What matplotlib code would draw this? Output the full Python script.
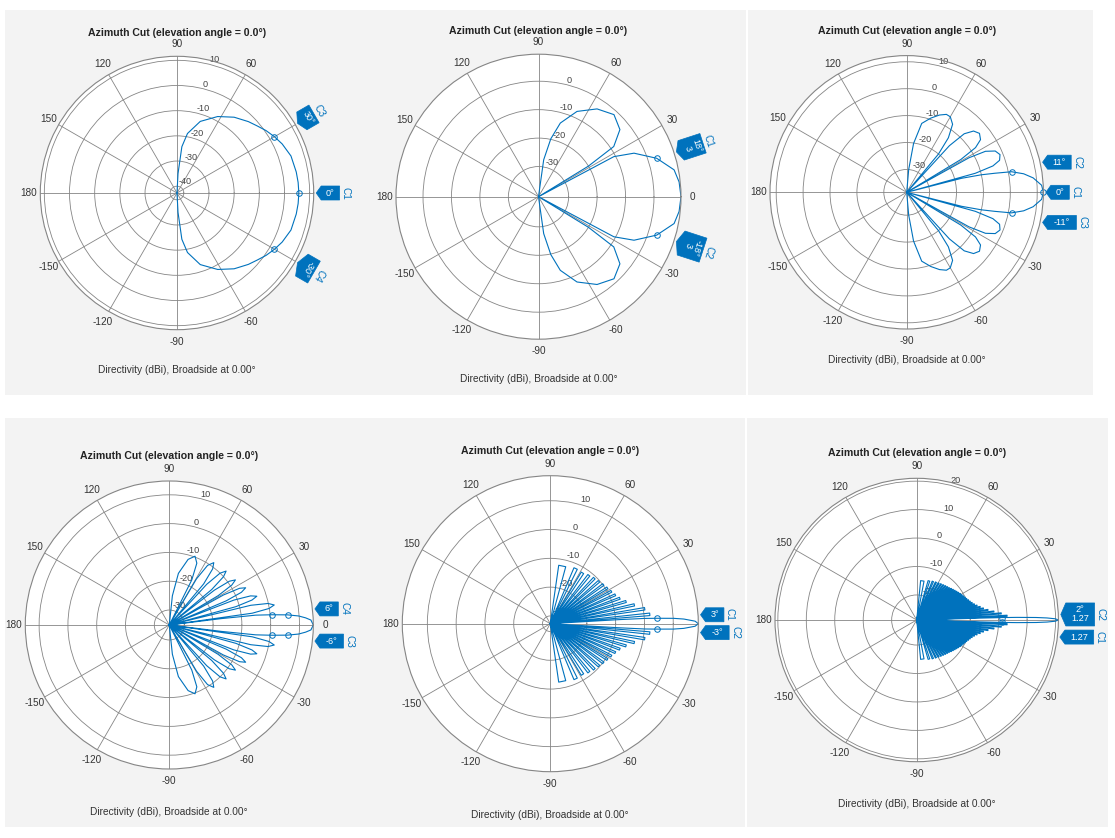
import numpy as np
import matplotlib.pyplot as plt
from matplotlib.patches import Polygon, Rectangle

plt.rcParams['font.family'] = ['Liberation Sans', 'DejaVu Sans']
plt.rcParams['axes.unicode_minus'] = False

W, H = 1115, 838
BLUE = '#0072BD'
GRID = '#858585'
BG = '#f3f3f3'

TITLE = 'Azimuth Cut (elevation angle = 0.0\u00b0)'
XLABEL = 'Directivity (dBi), Broadside at 0.00\u00b0'
THETA_TICKS = [0, 30, 60, 90, 120, 150, 180, 210, 240, 270, 300, 330]
THETA_LABELS = ['0', '30', '60', '90', '120', '150', '180',
                '-150', '-120', '-90', '-60', '-30']

# Half cuts, azimuth 0..90 deg vs directivity in dBi (each cut is symmetric
# about broadside). -60 marks a null, i.e. below the floor of every panel.
P1_AZ = [0, 5, 10, 18, 25, 30, 35, 40, 45, 53, 62, 72, 80, 84, 87, 90]
P1_DB = [5.7, 5.6, 5.4, 4.9, 3.4, 2.0, 0.5, -1.2, -2.6, -5.0, -8.3, -12.8,
         -18.7, -24.2, -35.0, -60]

P2_AZ = [0, 6, 11.2, 18, 24.5, 28, 30, 31.5, 33.7, 39.5, 47.4, 56.3, 65.7,
         73.5, 78, 82, 85, 90]
P2_DB = [9.5, 9.1, 8.0, 3.1, -3.7, -10.6, -60, -20, -8.8, -3.5, -1.4, -3.5,
         -7.7, -13.6, -19.8, -27.5, -60, -60]

P3_AZ = [0, 3, 6.5, 9, 11.1, 12.2, 13.2, 14.3, 14.6,
         15.5, 17, 19, 22, 25, 27.5, 29, 30,
         31.2, 33, 35.5, 39, 42.5, 45.5, 47.5, 48.6,
         50.3, 52.6, 56, 60, 63, 67, 72, 77.7, 82, 85, 87, 90]
P3_DB = [12.3, 11.7, 8.8, 5.5, 1.2, -5.0, -10.0, -17.4, -60,
         -12, -5, -2, -1.1, -2.2, -5.5, -12, -60,
         -15, -8, -4.8, -3.7, -4.8, -8, -15, -60,
         -20, -13, -8, -6.1, -6.0, -7.3, -9.5, -12.3, -20.2, -30, -60, -60]

P4_AZ = [0, 2, 3, 4, 4.9, 5.7, 6.5, 7.0, 7.2,
         8.1, 9.4, 10.8, 12.3, 13.6, 14.5,
         15.4, 16.8, 18.2, 19.7, 21.1, 22,
         23, 24.4, 26, 27.6, 29, 30,
         31, 32.6, 34.3, 36.1, 37.7, 38.7,
         39.9, 41.7, 43.5, 45.6, 47.4, 48.6,
         50.1, 52.3, 54.5, 57.3, 59.5, 61,
         63.5, 66, 69.5, 74, 80, 84, 88, 90]
P4_DB = [14.8, 14.0, 12.2, 9.8, 6.0, 0.6, -5.0, -17.0, -60,
         -6.1, -0.1, 1.9, -0.1, -6.1, -60,
         -11.2, -5.2, -3.2, -5.2, -11.2, -60,
         -13.7, -7.7, -5.7, -7.7, -13.7, -60,
         -15.4, -9.4, -7.4, -9.4, -15.4, -60,
         -16, -10, -8, -10, -16, -60,
         -16.6, -10.6, -8.6, -10.6, -16.6, -60,
         -17.7, -11.7, -9.7, -11.5, -17, -25, -60, -60]

# dense cuts: main beam, then each sidelobe as (null, lobe edges, lobe level)
P5_MAIN_AZ = [0, 1, 2, 2.5, 2.9, 3.2, 3.4]
P5_MAIN_DB = [18.7, 17.6, 13.7, 10.1, 4.5, 0.1, -9.0]
P5_NULL = [3.58, 7.18, 10.81, 14.48, 18.21, 22.02, 25.94, 30.0, 34.23,
           38.68, 43.43, 48.59, 54.34, 61.04, 69.64, 87.0]
P5_LO = [4.66, 8.27, 11.91, 15.6, 19.35, 23.2, 27.16, 31.27, 35.57, 40.11,
         44.98, 50.32, 56.35, 63.62, 74.85]
P5_HI = [6.10, 9.72, 13.38, 17.09, 20.88, 24.76, 28.78, 32.96, 37.35, 42.0,
         47.04, 52.62, 59.03, 67.06, 81.8]
P5_PK = [2.0, 0.5, -2.8, -5.3, -7.0, -8.0, -8.7, -9.3, -9.8, -10.3, -10.7,
         -11.2, -11.8, -11.6, -12.2]

P6_MAIN_AZ = [0, 0.5, 0.9, 1.2, 1.5, 1.63, 1.72]
P6_MAIN_DB = [21.0, 19.9, 17.0, 13.2, 6.4, 1.3, -8.0]
P6_NULL = [1.79, 3.58, 5.38, 7.18, 8.99, 10.81, 12.64, 14.48, 16.34, 18.21,
           20.11, 22.02, 23.97, 25.94, 27.95, 30.0, 32.09, 34.23, 36.43,
           38.68, 41.01, 43.43, 45.95, 48.59, 51.38, 54.34, 57.54, 61.04,
           64.99, 69.64, 75.64, 88.0]
P6_LO = [2.33, 4.12, 5.92, 7.72, 9.54, 11.36, 13.19, 15.04, 16.9, 18.78,
         20.68, 22.6, 24.56, 26.54, 28.57, 30.63, 32.73, 34.89, 37.1, 39.38,
         41.74, 44.19, 46.74, 49.43, 52.27, 55.3, 58.59, 62.23, 66.38, 71.44,
         79.35]
P6_HI = [3.04, 4.84, 6.64, 8.45, 10.26, 12.09, 13.93, 15.78, 17.65, 19.54,
         21.45, 23.39, 25.35, 27.35, 29.39, 31.46, 33.59, 35.77, 38.0, 40.31,
         42.7, 45.19, 47.8, 50.54, 53.45, 56.58, 59.99, 63.8, 68.25, 73.84,
         84.3]
P6_PK = [3.0, 1.0, -1.5, -3.5, -5.0, -6.0, -7.0, -7.8, -8.4, -8.9, -9.3,
         -9.7, -10.0, -10.3, -10.6, -10.9, -11.2, -11.5, -11.8, -12.1, -12.4,
         -12.7, -12.9, -13.1, -13.3, -13.5, -13.7, -13.9, -14.1, -14.4, -14.9]

# data-tip markers (azimuth, dBi) and their labels
P1_MK_AZ, P1_MK_DB = [-30, 0, 30], [2.0, 5.7, 2.0]
P2_MK_AZ, P2_MK_DB = [-18, 18], [3.1, 3.1]
P3_MK_AZ, P3_MK_DB = [-11.1, 0, 11.1], [1.2, 12.3, 1.2]
P4_MK_AZ, P4_MK_DB = [-5.7, -4.9, 4.9, 5.7], [0.6, 6.0, 6.0, 0.6]
P5_MK_AZ, P5_MK_DB = [-2.9, 2.9], [4.5, 4.5]
P6_MK_AZ, P6_MK_DB = [-1.63, 1.63], [1.3, 1.3]

P1_TAG_TEXT, P1_TAG_NAME = ['30\u00b0', '0\u00b0', '-30\u00b0'], ['C3', 'C1', 'C4']
P2_TAG_TEXT, P2_TAG_NAME = ['18\u00b0\n3', '-18\u00b0\n3'], ['C1', 'C2']
P3_TAG_TEXT, P3_TAG_NAME = ['11\u00b0', '0\u00b0', '-11\u00b0'], ['C2', 'C1', 'C3']
P4_TAG_TEXT, P4_TAG_NAME = ['6\u00b0', '-6\u00b0'], ['C4', 'C3']
P5_TAG_TEXT, P5_TAG_NAME = ['3\u00b0', '-3\u00b0'], ['C1', 'C2']
P6_TAG_TEXT, P6_TAG_NAME = ['1.27', '2\u00b0\n1.27'], ['C1', 'C2']


def mirror(az, db):
    az = np.asarray(az, float)
    db = np.asarray(db, float)
    return (np.concatenate([-az[::-1], az[1:]]),
            np.concatenate([db[::-1], db[1:]]))


def with_lobes(main_az, main_db, nulls, lo, hi, pk):
    az, db = list(main_az) + [nulls[0]], list(main_db) + [-60]
    for k in range(len(pk)):
        az += [lo[k], hi[k], nulls[k + 1]]
        db += [pk[k], pk[k], -60]
    return az + [90], db + [-60]


DATA = [
    (mirror(P1_AZ, P1_DB), P1_MK_AZ, P1_MK_DB, P1_TAG_TEXT, P1_TAG_NAME),
    (mirror(P2_AZ, P2_DB), P2_MK_AZ, P2_MK_DB, P2_TAG_TEXT, P2_TAG_NAME),
    (mirror(P3_AZ, P3_DB), P3_MK_AZ, P3_MK_DB, P3_TAG_TEXT, P3_TAG_NAME),
    (mirror(P4_AZ, P4_DB), P4_MK_AZ, P4_MK_DB, P4_TAG_TEXT, P4_TAG_NAME),
    (mirror(*with_lobes(P5_MAIN_AZ, P5_MAIN_DB, P5_NULL, P5_LO, P5_HI, P5_PK)),
     P5_MK_AZ, P5_MK_DB, P5_TAG_TEXT, P5_TAG_NAME),
    (mirror(*with_lobes(P6_MAIN_AZ, P6_MAIN_DB, P6_NULL, P6_LO, P6_HI, P6_PK)),
     P6_MK_AZ, P6_MK_DB, P6_TAG_TEXT, P6_TAG_NAME),
]

# layout in image pixels (y from top): background box, circle centre/radius,
# title / caption rows, tag draw angles and whether the tag is radial;
# show0 is False where the data tips sit on top of the "0" angle label
PANELS = [
    dict(bg=(5, 10, 381, 385), c=(177, 193), R=136.7, rlim=(-42.7, 11.6),
         rticks=[-40, -30, -20, -10, 0, 10], ty=32.5, ly=370, show0=False,
         tag_ang=[30, 0, -30], radial=[True, False, True]),
    dict(bg=(386, 10, 360, 385), c=(538.5, 196.7), R=142.5, rlim=(-40.6, 9.5),
         rticks=[-30, -20, -10, 0], ty=31.5, ly=379, show0=True,
         tag_ang=[18, -18], radial=[True, True]),
    dict(bg=(748, 10, 345, 385), c=(906.7, 192.3), R=136.7, rlim=(-38.5, 12.3),
         rticks=[-30, -20, -10, 0, 10], ty=31.5, ly=360, show0=False,
         tag_ang=[12.5, 0, -12.5], radial=[False, False, False]),
    dict(bg=(5, 418, 368, 409), c=(169.3, 625), R=144, rlim=(-35.2, 14.8),
         rticks=[-30, -20, -10, 0, 10], ty=455.5, ly=811.5, show0=True,
         tag_ang=[6.3, -6.3], radial=[False, False]),
    dict(bg=(373, 418, 372, 409), c=(550.3, 623.7), R=148, rlim=(-32.7, 18.7),
         rticks=[-30, -20, -10, 0, 10], ty=450.7, ly=815, show0=False,
         tag_ang=[3.4, -3.4], radial=[False, False]),
    dict(bg=(747, 418, 361, 409), c=(916.7, 620), R=141.7, rlim=(-28.8, 21.0),
         rticks=[-20, -10, 0, 10, 20], ty=453.3, ly=804, show0=False,
         tag_ang=[-6.8, 2.2], radial=[False, False]),
]


def draw_tag(fig, cx, cy, R, ang, text, name, radial):
    t = np.radians(ang)
    er = np.array([np.cos(t), np.sin(t)])
    u = er if radial else np.array([1.0, 0.0])
    v = np.array([-u[1], u[0]])
    tip = np.array([cx, H - cy]) + (R + 2.5) * er
    lines = text.split('\n')
    n, m = len(lines), max(len(s) for s in lines)
    if radial:
        L, wd = 9 * n + 5, 4.8 * m + 6
    else:
        L, wd = 5.2 * m + 8, 9 * n + 5
    a = 5
    pts = [tip, tip + a * u + wd / 2 * v, tip + (a + L) * u + wd / 2 * v,
           tip + (a + L) * u - wd / 2 * v, tip + a * u - wd / 2 * v]
    fig.add_artist(Polygon([(x / W, y / H) for x, y in pts], closed=True,
                           transform=fig.transFigure, fc=BLUE, ec=BLUE,
                           lw=0.5, zorder=5))
    mid = tip + (a + L / 2) * u
    fig.text(mid[0] / W, mid[1] / H, text, rotation=ang - 90 if radial else 0,
             rotation_mode='anchor', ha='center', va='center',
             multialignment='center', linespacing=1.0, color='white',
             fontsize=6.6, zorder=6)
    cp = tip + (a + L + 6) * u
    fig.text(cp[0] / W, cp[1] / H, name, rotation=ang - 90 if radial else -90,
             rotation_mode='anchor', ha='center', va='center', color=BLUE,
             fontsize=7.2, zorder=6)


fig = plt.figure(figsize=(W / 100, H / 100), dpi=100)
fig.patch.set_facecolor('white')

for p, (curve, mk_az, mk_db, tag_text, tag_name) in zip(PANELS, DATA):
    x0, y0, w, h = p['bg']
    fig.add_artist(Rectangle((x0 / W, 1 - (y0 + h) / H), w / W, h / H,
                             transform=fig.transFigure, fc=BG, ec='none',
                             zorder=-5))
    cx, cy = p['c']
    R = p['R']
    rmin, rmax = p['rlim']
    ax = fig.add_axes([(cx - R) / W, (H - cy - R) / H, 2 * R / W, 2 * R / H],
                      projection='polar')
    az, db = curve
    ax.plot(np.radians(az), np.maximum(db, rmin), color=BLUE, lw=0.8)
    ax.plot(np.radians(mk_az), mk_db, ls='none', marker='o', ms=4,
            mfc='none', mec=BLUE, mew=0.7, clip_on=False)
    ax.set_ylim(rmin, rmax)
    ax.set_yticks(p['rticks'])
    ax.set_rlabel_position(76)
    labels = THETA_LABELS if p['show0'] else [''] + THETA_LABELS[1:]
    ax.set_thetagrids(THETA_TICKS, labels)
    ax.tick_params(axis='x', length=0, pad=1.5, labelsize=7.2,
                   labelcolor='#333333')
    ax.tick_params(axis='y', labelsize=6.6, labelcolor='#444444')
    ax.grid(True, color=GRID, lw=0.6)
    ax.spines['polar'].set_color(GRID)
    ax.spines['polar'].set_linewidth(0.8)

    fig.text(cx / W, 1 - p['ty'] / H, TITLE, ha='center', va='center',
             fontsize=7.6, fontweight='bold', color='#222222')
    fig.text(cx / W, 1 - p['ly'] / H, XLABEL, ha='center', va='center',
             fontsize=7.3, color='#333333')
    for ang, txt, nm, rad in zip(p['tag_ang'], tag_text, tag_name, p['radial']):
        draw_tag(fig, cx, cy, R, ang, txt, nm, rad)

fig.savefig('out.png', dpi=100, facecolor='white')
